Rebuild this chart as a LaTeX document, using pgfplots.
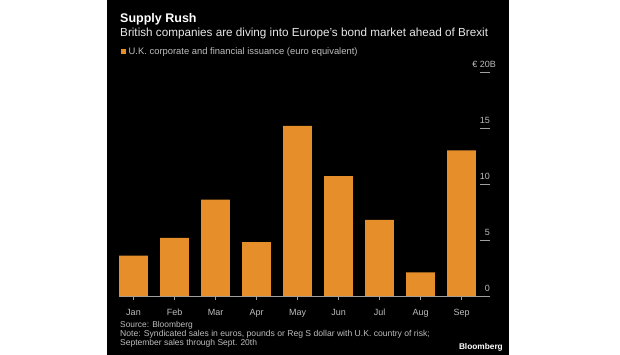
\documentclass[border=0pt]{standalone}
\usepackage{pgfplots}
\pgfplotsset{compat=1.18}
\usepackage{fontspec}
\setmainfont{Liberation Sans}
\definecolor{bbar}{RGB}{230,143,42}
\definecolor{lbl}{RGB}{190,190,190}
\definecolor{sub}{RGB}{232,232,232}
\definecolor{axl}{RGB}{160,160,160}
\begin{document}
\begin{tikzpicture}
\begin{scope}[x=1pt,y=-1pt]
\fill[white] (0,0) rectangle (620,355);
\fill[black] (107,0) rectangle (509,355);
\node[anchor=base west, inner sep=0, text=white, font=\fontsize{12.5}{14}\selectfont\bfseries] at (120,22.7) {Supply Rush};
\node[anchor=base west, inner sep=0, text=sub, font=\fontsize{11.7}{13}\selectfont] at (120,37) {British companies are diving into Europe's bond market ahead of Brexit};
\fill[bbar] (120.7,49.3) rectangle (126,54.3);
\node[anchor=base west, inner sep=0, text=lbl, font=\fontsize{9.4}{10}\selectfont] at (128.5,55) {U.K. corporate and financial issuance (euro equivalent)};
\node[anchor=base west, inner sep=0, text=lbl, font=\fontsize{8.4}{9.3}\selectfont] at (120,327.3) {Source: Bloomberg};
\node[anchor=base west, inner sep=0, text=lbl, font=\fontsize{8.6}{9.3}\selectfont] at (120,336.6) {Note: Syndicated sales in euros, pounds or Reg S dollar with U.K. country of risk;};
\node[anchor=base west, inner sep=0, text=lbl, font=\fontsize{8.5}{9.3}\selectfont] at (120,345.9) {September sales through Sept. 20th};
\node[anchor=base east, inner sep=0, text=white, font=\fontsize{8.3}{10}\selectfont\bfseries] at (503,349.5) {Bloomberg};
\end{scope}
\begin{axis}[
  at={(119pt,-296pt)}, anchor=south west,
  scale only axis, width=371pt, height=224pt,
  xmin=-0.3537, xmax=8.695, ymin=0, ymax=20,
  axis x line*=bottom, axis y line*=right,
  x axis line style={axl, line width=0.6pt},
  y axis line style={draw=none},
  xtick={0,...,8},
  xticklabels={Jan,Feb,Mar,Apr,May,Jun,Jul,Aug,Sep},
  xtick align=outside, ytick align=inside,
  major tick length=4pt,
  xtick style={axl, line width=0.6pt},
  xticklabel style={anchor=base, yshift=-15.5pt, inner sep=0pt, text=lbl, font=\fontsize{9}{10}\selectfont},
  ytick={0,5,10,15,20},
  yticklabels={0,5,10,15,{€ 20\rlap{B}}},
  ytick style={axl, line width=0.8pt, /pgfplots/major tick length=10pt},
  yticklabel style={anchor=south east, inner sep=0pt, yshift=4.5pt, text=lbl, font=\fontsize{9}{10}\selectfont},
  clip=false,
]
\addplot[ybar, fill=bbar, draw=none, bar width=0.7] coordinates {
(0,3.6) (1,5.2) (2,8.6) (3,4.8) (4,15.2) (5,10.7) (6,6.8) (7,2.1) (8,13.0)};
\end{axis}
\end{tikzpicture}
\end{document}
